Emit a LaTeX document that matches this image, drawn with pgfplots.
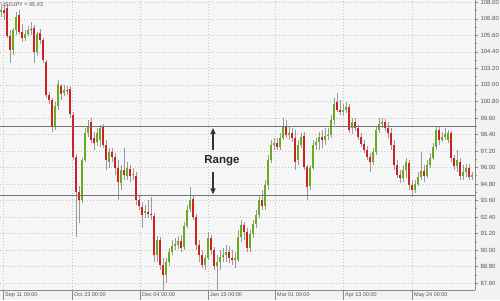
\documentclass[border=0pt]{standalone}
\usepackage{pgfplots}
\pgfplotsset{compat=1.18}
\usepackage{pgfplotstable}
\usepackage{fontspec}
\setmainfont{Liberation Sans}
\usetikzlibrary{arrows.meta}
\definecolor{bg}{HTML}{F2F2F2}
\definecolor{plotbg}{HTML}{F6F6F6}
\definecolor{upc}{HTML}{6AAA1E}
\definecolor{dnc}{HTML}{CC2222}
\definecolor{wick}{HTML}{9A9A9A}
\definecolor{gridc}{HTML}{C4C4C4}
\definecolor{axc}{HTML}{8A8A8A}
\definecolor{txt}{HTML}{555555}
\pgfplotstableread{
x o h l c
0 107.30 107.73 106.93 107.44
1 107.44 107.81 106.72 107.23
2 107.59 107.88 105.41 105.55
3 105.55 105.99 103.59 104.54
4 104.54 106.13 104.17 105.99
5 105.99 107.30 105.63 106.93
6 107.08 107.44 105.70 105.84
7 105.84 106.43 105.12 105.41
8 105.41 105.99 105.19 105.70
9 105.70 106.28 105.55 105.99
10 106.06 106.57 105.63 105.99
11 106.13 106.35 103.59 104.39
12 104.39 105.84 104.10 105.70
13 105.77 106.06 104.97 105.26
14 105.26 105.41 103.59 103.81
15 103.66 103.81 101.05 101.27
16 101.27 101.48 100.61 100.90
17 100.90 101.05 98.58 98.94
18 99.01 100.76 98.72 100.47
19 100.47 102.36 100.18 102.07
20 101.92 102.07 100.90 101.34
21 101.41 101.99 101.19 101.63
22 101.63 101.92 101.27 101.56
23 101.70 101.92 99.60 99.89
24 99.81 100.03 96.54 96.76
25 96.76 96.98 90.95 94.22
26 94.22 94.65 91.96 93.64
27 93.64 96.70 93.42 96.54
28 96.54 98.87 96.40 98.50
29 98.50 99.45 98.21 98.94
30 99.30 99.60 97.78 98.00
31 98.14 98.58 97.27 97.78
32 97.85 98.87 97.56 98.50
33 98.00 99.09 97.49 98.87
34 98.94 99.16 97.41 97.63
35 97.63 98.00 95.82 96.54
36 96.40 97.41 95.96 97.12
37 97.12 97.41 96.40 96.76
38 96.76 97.05 95.45 95.96
39 95.96 96.54 93.64 94.94
40 94.87 96.18 94.36 95.82
41 95.82 97.41 95.09 95.45
42 95.38 96.40 95.09 95.96
43 95.89 96.18 94.94 95.38
44 95.45 95.96 95.09 95.53
45 95.38 95.67 93.27 93.64
46 93.64 94.00 92.91 93.20
47 93.13 93.49 91.60 92.55
48 92.69 93.27 92.33 92.84
49 92.76 93.64 92.33 92.62
50 92.62 93.85 92.18 92.55
51 92.47 92.69 89.13 89.64
52 89.64 91.02 89.13 90.73
53 90.73 90.95 88.55 88.91
54 88.91 89.42 87.10 88.19
55 88.19 89.42 87.61 89.13
56 89.13 90.15 88.84 89.86
57 89.86 90.73 89.64 90.29
58 90.29 90.87 90.00 90.44
59 90.37 91.02 90.08 90.66
60 90.66 91.09 89.86 90.15
61 90.22 92.04 90.00 91.75
62 91.75 93.27 91.60 92.91
63 92.98 94.58 92.80 93.64
64 93.71 94.00 92.18 92.40
65 92.40 92.62 90.00 90.37
66 90.37 90.73 89.13 89.64
67 89.64 90.00 88.70 88.91
68 88.91 89.64 88.55 89.42
69 89.42 91.31 89.28 90.87
70 90.87 91.09 89.64 90.00
71 90.00 90.22 88.55 88.84
72 88.84 89.64 87.10 89.13
73 89.13 90.00 88.55 89.49
74 89.49 90.15 89.13 89.64
75 89.64 90.37 89.13 89.86
76 89.86 90.29 89.06 89.42
77 89.42 90.00 88.91 89.28
78 89.28 89.86 88.70 89.42
79 89.28 91.46 89.13 90.95
80 90.95 92.18 90.58 91.82
81 91.82 92.04 90.73 91.31
82 91.31 91.60 89.86 90.15
83 90.15 91.46 89.86 91.17
84 91.17 92.18 90.87 91.89
85 91.89 92.91 91.60 92.55
86 92.55 93.93 92.33 93.64
87 93.64 94.36 92.91 93.20
88 93.20 95.09 92.91 94.73
89 94.73 96.91 94.36 96.54
90 96.54 98.00 96.32 97.63
91 97.63 98.14 97.27 97.78
92 97.78 98.14 97.27 97.49
93 97.49 98.50 97.27 98.14
94 98.14 99.60 98.00 98.94
95 98.94 99.45 98.14 98.36
96 98.36 99.01 98.00 98.50
97 98.50 98.87 97.85 98.14
98 98.14 98.72 95.82 96.40
99 96.54 98.00 96.18 97.63
100 97.63 98.50 97.41 98.21
101 98.29 98.58 95.82 96.03
102 96.03 96.18 93.64 94.58
103 94.65 96.18 94.36 95.96
104 95.96 98.00 95.82 97.63
105 97.63 98.14 97.27 97.85
106 97.85 98.58 97.27 98.21
107 98.21 98.72 97.41 98.00
108 98.00 98.87 97.63 98.29
109 98.29 98.87 98.00 98.36
110 98.36 99.81 98.14 99.45
111 99.45 101.05 99.09 100.61
112 100.76 101.41 100.03 100.18
113 100.18 100.90 99.81 100.03
114 100.03 100.61 99.74 100.18
115 100.18 100.76 99.96 100.39
116 100.39 100.61 98.50 98.72
117 98.87 99.60 98.43 99.30
118 99.30 99.60 98.65 98.87
119 98.87 99.09 98.00 98.21
120 98.21 98.50 97.49 97.71
121 97.71 98.00 97.05 97.27
122 97.27 97.56 96.54 96.76
123 96.76 97.05 95.67 96.40
124 96.40 97.41 96.18 97.12
125 97.12 99.01 96.91 98.72
126 98.72 99.60 98.50 99.16
127 99.16 99.60 98.87 99.30
128 99.30 99.52 98.65 98.87
129 98.87 99.30 98.14 98.50
130 98.50 98.87 97.27 97.63
131 97.63 98.00 95.82 96.18
132 96.18 96.54 95.23 95.45
133 95.45 95.82 94.87 95.23
134 95.23 96.18 94.94 95.82
135 95.82 96.69 95.23 96.40
136 96.32 96.54 94.36 94.73
137 94.73 95.09 93.85 94.36
138 94.36 95.09 94.14 94.80
139 94.80 95.67 94.65 95.31
140 95.31 97.12 95.09 95.74
141 95.74 96.18 94.94 95.38
142 95.38 96.54 95.23 96.18
143 96.18 97.05 95.96 96.69
144 96.69 97.78 96.54 97.49
145 97.49 98.94 97.27 98.72
146 98.72 98.94 97.63 98.00
147 98.00 98.58 97.85 98.21
148 98.21 98.87 98.00 98.43
149 98.00 98.72 97.78 98.50
150 98.50 98.65 96.40 96.69
151 96.69 96.91 95.82 96.11
152 96.11 97.27 95.67 96.54
153 96.40 96.69 95.09 95.38
154 95.38 96.18 95.09 95.67
155 95.67 96.25 95.31 95.96
156 95.96 96.25 95.09 95.31
157 95.31 95.67 95.09 95.43
}\candles
\begin{document}
\begin{tikzpicture}
\useasboundingbox (0pt,-10pt) rectangle (500pt,290pt);
\fill[bg] (0pt,-10pt) rectangle (500pt,290pt);
\begin{axis}[
  scale only axis, width=475pt, height=290pt,
  at={(0pt,0pt)}, anchor=south west,
  xmin=-0.333, xmax=158, ymin=87.10, ymax=108.17,
  axis background/.style={fill=plotbg},
  axis x line*=bottom, axis y line*=right,
  axis line style={axc, line width=0.8pt, -},
  ytick={87.6,88.8,90,91.2,92.4,93.6,94.8,96,97.2,98.4,99.6,100.8,102,103.2,104.4,105.6,106.8,108},
  minor y tick num=1,
  tick align=outside,
  major tick length=3pt, minor tick length=2pt,
  tick style={axc, line width=0.6pt},
  xtick style={/pgfplots/major tick length=10pt, axc, line width=0.6pt},
  xtick={0.67,23.67,46.33,69,91.33,114,137},
  xticklabels={Sep 11 00:00, Oct 23 00:00, Dec 04 00:00, Jan 15 00:00, Mar 01 00:00, Apr 13 00:00, May 24 00:00},
  x tick label style={anchor=north west, font=\fontsize{5.5}{6}\selectfont, text=txt, xshift=1pt, yshift=1.5pt, inner sep=1pt},
  y tick label style={font=\fontsize{6}{7}\selectfont, text=txt, xshift=-1pt, /pgf/number format/.cd, fixed, fixed zerofill, precision=2, assume math mode=true},
  grid=major,
  major grid style={gridc, dash pattern=on 1pt off 2pt, line width=0.5pt},
]
\addplot[draw=none, forget plot, error bars/.cd, y dir=plus, y explicit, error mark=none,
  error bar style={draw=wick, line width=0.8pt}]
  table[x=x, y=l, y error plus expr={\thisrow{h}-\thisrow{l}}] {\candles};
\addplot[draw=none, forget plot, error bars/.cd, y dir=plus, y explicit, error mark=none,
  error bar style={draw=upc, line width=2pt}]
  table[x=x, y=o, y error plus expr={max(\thisrow{c}-\thisrow{o},0)}] {\candles};
\addplot[draw=none, forget plot, error bars/.cd, y dir=plus, y explicit, error mark=none,
  error bar style={draw=dnc, line width=2pt}]
  table[x=x, y=c, y error plus expr={max(\thisrow{o}-\thisrow{c},0)}] {\candles};
\addplot[draw=black!55, line width=0.8pt, forget plot] coordinates {(-0.333,99.00) (158,99.00)};
\addplot[draw=black!55, line width=0.8pt, forget plot] coordinates {(-0.333,93.95) (158,93.95)};
\draw[-{Triangle[length=6pt,width=5pt]}, line width=1.2pt, black!80] (axis cs:70.67,97.27) -- (axis cs:70.67,98.87);
\draw[-{Triangle[length=6pt,width=5pt]}, line width=1.2pt, black!80] (axis cs:70.67,95.67) -- (axis cs:70.67,94.05);
\node[font=\bfseries\fontsize{11.5}{12}\selectfont, text=black!85] at (axis cs:73.67,96.47) {Range};
\node[anchor=north west, font=\fontsize{5.5}{6}\selectfont, text=txt, inner sep=0pt] at (rel axis cs:0,1) [xshift=1pt, yshift=-2pt] {USDJPY = 95.43};
\node[anchor=west, fill=black!60, text=white, font=\fontsize{5.5}{6}\selectfont, inner xsep=2pt, inner ysep=1.2pt, minimum width=25pt, align=left] at (axis cs:158,95.43) {95.43};
\end{axis}
\end{tikzpicture}
\end{document}
